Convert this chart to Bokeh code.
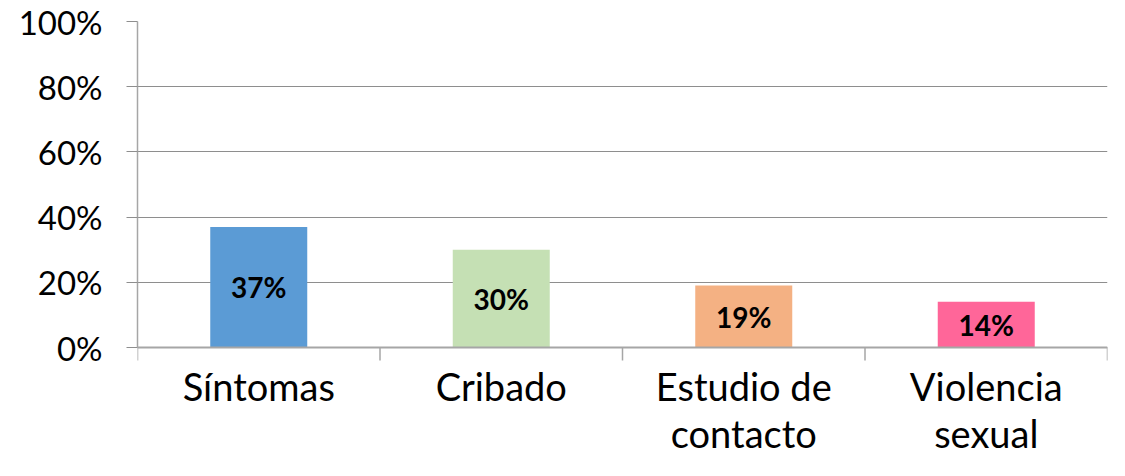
from bokeh.plotting import figure
from bokeh.models import ColumnDataSource, FixedTicker, Range1d, NumeralTickFormatter, Span
from bokeh.core.properties import value
from bokeh.embed import file_html
from bokeh.resources import INLINE

categories = ["Síntomas", "Cribado", "Estudio de\ncontacto", "Violencia\nsexual"]
values = [0.37, 0.30, 0.19, 0.14]
labels = ["37%", "30%", "19%", "14%"]
colors = ["#5B9BD5", "#C5E0B4", "#F4B183", "#FF6699"]
y_ticks = [0, 0.2, 0.4, 0.6, 0.8, 1.0]

n = len(categories)
xs = [i + 0.5 for i in range(n)]

FONT = "Lato"
W, H = 1109, 460
TOP = 21          # frame top (px)
ZERO = 347        # pixel row of 0 %
PX = ZERO - TOP   # pixels per 100 %
y_start = -(H - ZERO) / PX

src = ColumnDataSource(dict(x=xs, top=values, mid=[v / 2 for v in values], lab=labels,
                            color=colors, cat=categories,
                            caty=[-15 / PX] * n))
bounds_src = ColumnDataSource(dict(x=list(range(n + 1)), y0=[0] * (n + 1),
                                   y1=[-13 / PX] * (n + 1)))

p = figure(width=W, height=H, output_backend="svg", toolbar_location=None,
           x_range=Range1d(0, n), y_range=Range1d(y_start, 1),
           min_border_left=137, min_border_right=2, min_border_top=TOP, min_border_bottom=0,
           x_axis_type=None)
p.outline_line_color = None
p.background_fill_color = "white"
p.border_fill_color = "white"

p.vbar(x="x", top="top", bottom=0, width=0.4, color="color", source=src, line_color=None)
p.text(x="x", y="mid", text="lab", source=src, text_align="center", text_baseline="middle",
       text_font=value(FONT), text_font_size="28px", text_font_style="bold", text_color="black")

# y axis
ya = p.yaxis[0]
ya.ticker = FixedTicker(ticks=y_ticks)
ya.bounds = (0, 1)
ya.formatter = NumeralTickFormatter(format="0%")
ya.axis_line_color = "#A6A6A6"
ya.axis_line_width = 1.5
ya.major_tick_line_color = "#8E8E8E"
ya.major_tick_out = 11
ya.major_tick_in = 0
ya.minor_tick_line_color = None
ya.major_label_standoff = 24
ya.major_label_text_font = FONT
ya.major_label_text_font_size = "33px"
ya.major_label_text_color = "black"

p.ygrid.ticker = FixedTicker(ticks=y_ticks)
p.ygrid.grid_line_color = "#8E8E8E"
p.xgrid.grid_line_color = None

# category axis line and boundary ticks
p.add_layout(Span(location=0, dimension="width", line_color="#A6A6A6", line_width=2))
p.segment(x0="x", y0="y0", x1="x", y1="y1", source=bounds_src,
          line_color="#A6A6A6", line_width=1.5)

# category labels
p.text(x="x", y="caty", text="cat", source=src, text_align="center",
       text_baseline="top", text_font=value(FONT), text_font_size="38px",
       text_color="black", text_line_height=1.04)

open("out.html", "w").write(file_html(p, INLINE))
